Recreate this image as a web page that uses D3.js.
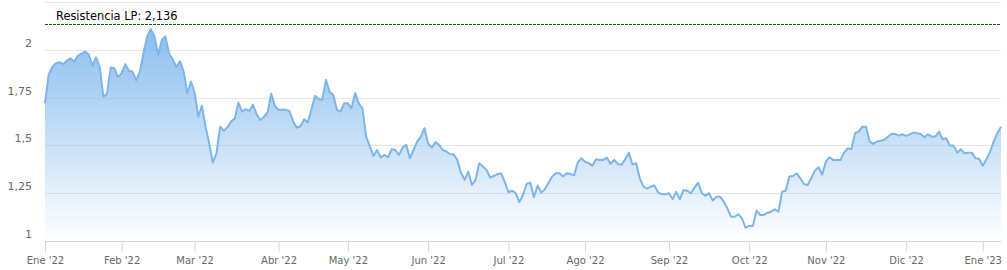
<!DOCTYPE html>
<html>
<head>
<meta charset="utf-8">
<script src="https://cdn.jsdelivr.net/npm/d3@7"></script>
<style>
  body{margin:0;background:#fff;}
  text{font-family:"DejaVu Sans",Verdana,sans-serif;}
</style>
</head>
<body>
<script>
// cierre diario (sesiones de bolsa), ene 2022 - ene 2023
const prices=[
 1.72,1.87,1.91,1.93,1.935,1.925,1.944,1.955,1.937,1.97,
 1.98,1.99,1.975,1.916,1.96,1.91,1.755,1.77,1.907,1.904,
 1.857,1.878,1.925,1.89,1.886,1.84,1.886,1.983,2.07,2.108,
 2.07,1.974,2.05,2.07,1.98,1.95,1.91,1.94,1.886,1.773,
 1.834,1.776,1.65,1.707,1.598,1.51,1.41,1.46,1.598,1.577,
 1.595,1.625,1.64,1.724,1.677,1.69,1.68,1.712,1.663,1.633,
 1.65,1.672,1.77,1.707,1.686,1.686,1.686,1.68,1.625,1.593,
 1.60,1.637,1.62,1.686,1.76,1.743,1.738,1.843,1.78,1.764,
 1.686,1.677,1.72,1.72,1.695,1.773,1.72,1.695,1.546,1.497,
 1.445,1.476,1.436,1.45,1.438,1.48,1.476,1.45,1.49,1.503,
 1.433,1.476,1.52,1.546,1.59,1.51,1.489,1.517,1.503,1.476,
 1.468,1.455,1.452,1.424,1.357,1.32,1.363,1.293,1.32,1.407,
 1.39,1.372,1.332,1.34,1.35,1.354,1.31,1.255,1.263,1.25,
 1.204,1.241,1.298,1.305,1.229,1.29,1.253,1.27,1.305,1.337,
 1.354,1.354,1.337,1.354,1.35,1.344,1.41,1.433,1.415,1.407,
 1.394,1.428,1.424,1.424,1.436,1.403,1.424,1.403,1.398,1.428,
 1.462,1.40,1.407,1.328,1.284,1.274,1.284,1.29,1.255,1.244,
 1.244,1.25,1.22,1.257,1.218,1.267,1.263,1.25,1.279,1.305,
 1.25,1.237,1.25,1.211,1.232,1.232,1.206,1.171,1.127,1.127,
 1.14,1.119,1.07,1.079,1.079,1.159,1.136,1.136,1.148,1.153,
 1.166,1.153,1.258,1.263,1.337,1.34,1.354,1.328,1.298,1.293,
 1.328,1.368,1.386,1.347,1.415,1.438,1.424,1.424,1.424,1.462,
 1.485,1.48,1.564,1.572,1.598,1.598,1.52,1.508,1.52,1.524,
 1.529,1.545,1.56,1.56,1.551,1.558,1.55,1.558,1.567,1.564,
 1.56,1.543,1.558,1.546,1.546,1.572,1.532,1.537,1.499,1.499,
 1.462,1.48,1.459,1.462,1.462,1.433,1.43,1.393,1.428,1.466,
 1.52,1.564,1.598
]
// primera sesion de cada mes (indice en prices)
const monthStart=[0,21,41,64,83,105,127,148,171,193,214,236,257]
const monthLabels=["Ene '22","Feb '22","Mar '22","Abr '22","May '22","Jun '22","Jul '22","Ago '22","Sep '22","Oct '22","Nov '22","Dic '22","Ene '23"]
const yTicks=[1,1.25,1.5,1.75,2]
const gridTicks=[1.25,1.5,1.75,2,2.25]
const resistance=2.136
const resistanceLabel="Resistencia LP: 2,136"

const w=1007, h=270
const pLeft=45, pRight=1001, pTop=2, pBottom=241

const es=d3.formatLocale({decimal:",",thousands:".",grouping:[3],currency:["","€"]})
const fmt=es.format("~g")

const svg=d3.select("body").append("svg")
  .attr("width",w).attr("height",h)

const x=d3.scaleLinear().domain([0,prices.length-1]).range([pLeft,pRight])
const y=d3.scaleLinear().domain([1,2.25]).range([pBottom,pTop])

//gradient for the area
const grad=svg.append("defs").append("linearGradient")
  .attr("id","fillGrad")
  .attr("gradientUnits","userSpaceOnUse")
  .attr("x1",0).attr("x2",0).attr("y1",pTop).attr("y2",pBottom)
grad.append("stop").attr("offset","0%").attr("stop-color","#7cb5ec").attr("stop-opacity",1)
grad.append("stop").attr("offset","100%").attr("stop-color","#7cb5ec").attr("stop-opacity",0)

//grid
svg.append("g").selectAll("line").data(gridTicks).enter().append("line")
  .attr("x1",pLeft).attr("x2",pRight)
  .attr("y1",d=>Math.round(y(d))+0.5).attr("y2",d=>Math.round(y(d))+0.5)
  .attr("stroke","#e6e6e6").attr("stroke-width",1)

//area + line
const area=d3.area().x((d,i)=>x(i)).y0(pBottom).y1(d=>y(d))
const line=d3.line().x((d,i)=>x(i)).y(d=>y(d))

svg.append("path").datum(prices)
  .attr("d",area).attr("fill","url(#fillGrad)")
svg.append("path").datum(prices)
  .attr("d",line).attr("fill","none")
  .attr("stroke","#7cb5ec").attr("stroke-width",2)
  .attr("stroke-linejoin","round")

//resistance line
svg.append("line")
  .attr("x1",pLeft).attr("x2",pRight)
  .attr("y1",Math.round(y(resistance))+0.5).attr("y2",Math.round(y(resistance))+0.5)
  .attr("stroke","#006400").attr("stroke-width",1)
  .attr("stroke-dasharray","3,1")
svg.append("text")
  .attr("x",pLeft+11).attr("y",y(resistance)-3.5)
  .attr("font-size","11.4px").attr("fill","#000")
  .text(resistanceLabel)

//x axis
const xAxis=d3.axisBottom(x).tickValues(monthStart)
  .tickFormat((d,i)=>monthLabels[i]).tickSizeOuter(0).tickSize(10).tickPadding(5)
const gx=svg.append("g")
  .attr("transform","translate(0,"+(pBottom+0.5)+")")
  .call(xAxis)
gx.select(".domain").attr("stroke","#ccd6eb").attr("d","M"+pLeft+",0H"+pRight)
gx.selectAll(".tick line").attr("stroke","#ccd6eb")
gx.selectAll(".tick text").attr("fill","#666").attr("font-size","10px")
  .attr("font-family","DejaVu Sans")

//y labels
svg.append("g").selectAll("text").data(yTicks).enter().append("text")
  .attr("x",32).attr("y",d=>y(d)-3)
  .attr("text-anchor","end")
  .attr("font-size","11px").attr("fill","#666")
  .text(d=>fmt(d))
</script>
</body>
</html>
